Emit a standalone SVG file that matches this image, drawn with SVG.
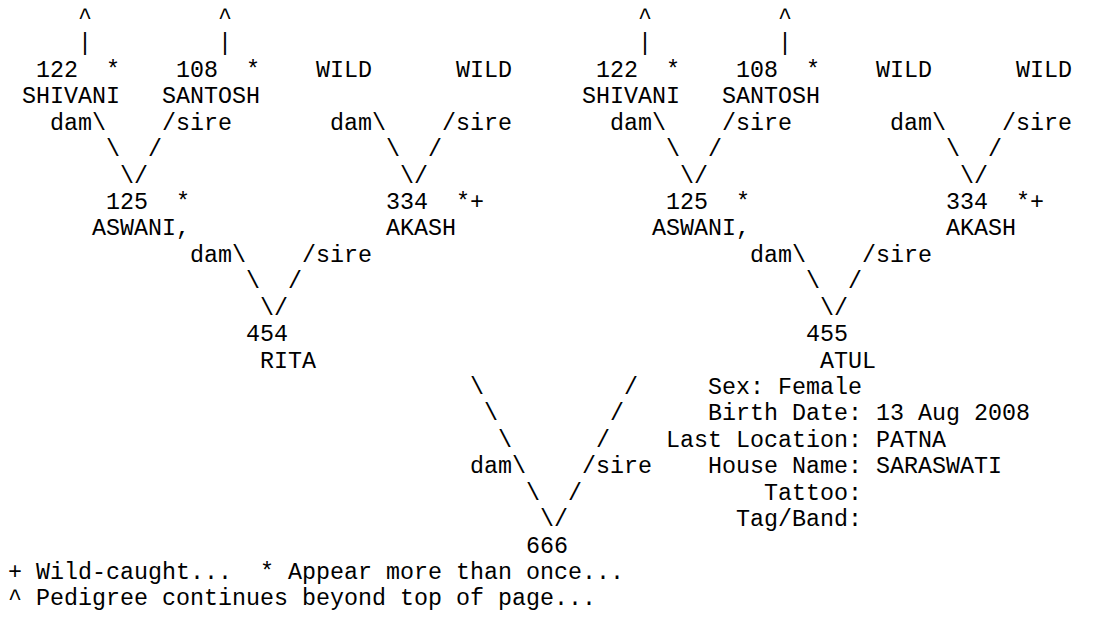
<svg xmlns="http://www.w3.org/2000/svg" width="1104" height="619" viewBox="0 0 1104 619">
<style>
text{font-family:"Liberation Mono","Courier New",monospace;font-size:23.333px;fill:#000;white-space:pre}
</style>
<rect x="0" y="0" width="1104" height="619" fill="#fff"/>
<g id="connectors">
<text x="78" y="24">^</text><text x="218" y="24">^</text><text x="638" y="24">^</text><text x="778" y="24">^</text>
<text x="78" y="50.43">|</text><text x="218" y="50.43">|</text><text x="638" y="50.43">|</text><text x="778" y="50.43">|</text>
<text x="50" y="129.72">dam\</text><text x="162" y="129.72">/sire</text><text x="330" y="129.72">dam\</text><text x="442" y="129.72">/sire</text>
<text x="610" y="129.72">dam\</text><text x="722" y="129.72">/sire</text><text x="890" y="129.72">dam\</text><text x="1002" y="129.72">/sire</text>
<text x="106" y="156.15">\</text><text x="148" y="156.15">/</text><text x="386" y="156.15">\</text><text x="428" y="156.15">/</text>
<text x="666" y="156.15">\</text><text x="708" y="156.15">/</text><text x="946" y="156.15">\</text><text x="988" y="156.15">/</text>
<text x="120" y="182.58">\/</text><text x="400" y="182.58">\/</text><text x="680" y="182.58">\/</text><text x="960" y="182.58">\/</text>
<text x="190" y="261.87">dam\</text><text x="302" y="261.87">/sire</text><text x="750" y="261.87">dam\</text><text x="862" y="261.87">/sire</text>
<text x="246" y="288.3">\</text><text x="288" y="288.3">/</text><text x="806" y="288.3">\</text><text x="848" y="288.3">/</text>
<text x="260" y="314.73">\/</text><text x="820" y="314.73">\/</text>
<text x="470" y="394.02">\</text><text x="624" y="394.02">/</text>
<text x="484" y="420.45">\</text><text x="610" y="420.45">/</text>
<text x="498" y="446.88">\</text><text x="596" y="446.88">/</text>
<text x="470" y="473.31">dam\</text><text x="582" y="473.31">/sire</text>
<text x="526" y="499.74">\</text><text x="568" y="499.74">/</text>
<text x="540" y="526.17">\/</text>
</g>
<g id="node-122-left"><text x="36" y="76.86">122</text><text x="106" y="76.86">*</text><text x="22" y="103.29">SHIVANI</text></g>
<g id="node-108-left"><text x="176" y="76.86">108</text><text x="246" y="76.86">*</text><text x="162" y="103.29">SANTOSH</text></g>
<g id="node-wild-1"><text x="316" y="76.86">WILD</text></g>
<g id="node-wild-2"><text x="456" y="76.86">WILD</text></g>
<g id="node-122-right"><text x="596" y="76.86">122</text><text x="666" y="76.86">*</text><text x="582" y="103.29">SHIVANI</text></g>
<g id="node-108-right"><text x="736" y="76.86">108</text><text x="806" y="76.86">*</text><text x="722" y="103.29">SANTOSH</text></g>
<g id="node-wild-3"><text x="876" y="76.86">WILD</text></g>
<g id="node-wild-4"><text x="1016" y="76.86">WILD</text></g>
<g id="node-125-left"><text x="106" y="209.01">125</text><text x="176" y="209.01">*</text><text x="92" y="235.44">ASWANI,</text></g>
<g id="node-334-left"><text x="386" y="209.01">334</text><text x="456" y="209.01">*+</text><text x="386" y="235.44">AKASH</text></g>
<g id="node-125-right"><text x="666" y="209.01">125</text><text x="736" y="209.01">*</text><text x="652" y="235.44">ASWANI,</text></g>
<g id="node-334-right"><text x="946" y="209.01">334</text><text x="1016" y="209.01">*+</text><text x="946" y="235.44">AKASH</text></g>
<g id="node-454"><text x="246" y="341.16">454</text><text x="260" y="367.59">RITA</text></g>
<g id="node-455"><text x="806" y="341.16">455</text><text x="820" y="367.59">ATUL</text></g>
<g id="node-666"><text x="526" y="552.6">666</text></g>
<g id="details">
<text x="708" y="394.02">Sex: Female</text>
<text x="708" y="420.45">Birth Date: 13 Aug 2008</text>
<text x="666" y="446.88">Last Location: PATNA</text>
<text x="708" y="473.31">House Name: SARASWATI</text>
<text x="764" y="499.74">Tattoo:</text>
<text x="736" y="526.17">Tag/Band:</text>
</g>
<g id="legend">
<text x="8" y="579.03" xml:space="preserve">+ Wild-caught...  * Appear more than once...</text>
<text x="8" y="605.46">^ Pedigree continues beyond top of page...</text>
</g>
</svg>
